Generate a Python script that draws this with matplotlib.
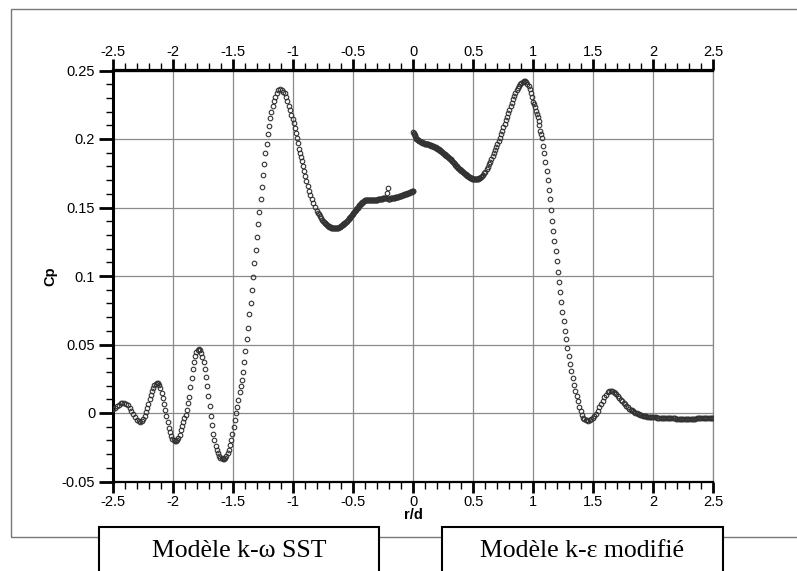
import numpy as np
import matplotlib
matplotlib.use("Agg")
import matplotlib.pyplot as plt
from matplotlib.patches import Rectangle
from matplotlib.ticker import MultipleLocator

# k-omega SST (left half, r/d < 0), (r/d, Cp)
pts_sst = [
    (-2.500, 0.0030), (-2.485, 0.0040), (-2.470, 0.0052), (-2.455, 0.0062), (-2.440, 0.0070),
    (-2.425, 0.0075), (-2.410, 0.0075), (-2.395, 0.0068), (-2.380, 0.0055), (-2.365, 0.0035),
    (-2.350, 0.0012), (-2.335, -0.0010), (-2.320, -0.0030), (-2.305, -0.0048), (-2.290, -0.0060),
    (-2.278, -0.0063), (-2.265, -0.0058), (-2.252, -0.0042), (-2.240, -0.0020), (-2.228, 0.0005),
    (-2.218, 0.0035), (-2.208, 0.0068), (-2.198, 0.0100), (-2.188, 0.0130), (-2.178, 0.0158),
    (-2.168, 0.0182), (-2.158, 0.0202), (-2.148, 0.0215), (-2.138, 0.0222), (-2.128, 0.0220),
    (-2.118, 0.0205), (-2.108, 0.0180), (-2.098, 0.0145), (-2.088, 0.0108), (-2.078, 0.0065),
    (-2.068, 0.0020), (-2.058, -0.0025), (-2.048, -0.0068), (-2.038, -0.0108), (-2.028, -0.0140),
    (-2.018, -0.0168), (-2.008, -0.0188), (-1.998, -0.0200), (-1.988, -0.0205), (-1.978, -0.0204),
    (-1.968, -0.0200), (-1.958, -0.0183), (-1.948, -0.0158), (-1.938, -0.0127), (-1.928, -0.0095),
    (-1.918, -0.0065), (-1.908, -0.0040), (-1.898, -0.0012), (-1.888, 0.0025), (-1.878, 0.0070),
    (-1.868, 0.0118), (-1.858, 0.0190), (-1.848, 0.0255), (-1.838, 0.0320), (-1.828, 0.0375),
    (-1.818, 0.0418), (-1.808, 0.0448), (-1.798, 0.0463), (-1.788, 0.0468), (-1.778, 0.0460),
    (-1.768, 0.0440), (-1.758, 0.0410), (-1.748, 0.0372), (-1.738, 0.0320), (-1.728, 0.0262),
    (-1.718, 0.0195), (-1.708, 0.0125), (-1.698, 0.0052), (-1.688, -0.0020), (-1.678, -0.0090),
    (-1.668, -0.0150), (-1.658, -0.0200), (-1.648, -0.0240), (-1.638, -0.0270), (-1.628, -0.0293),
    (-1.618, -0.0312), (-1.608, -0.0325), (-1.598, -0.0332), (-1.588, -0.0335), (-1.578, -0.0333),
    (-1.568, -0.0325), (-1.558, -0.0312), (-1.548, -0.0293), (-1.538, -0.0268), (-1.528, -0.0235),
    (-1.518, -0.0195), (-1.508, -0.0150), (-1.498, -0.0100), (-1.488, -0.0050), (-1.478, 0.0000),
    (-1.468, 0.0045), (-1.458, 0.0095), (-1.448, 0.0150), (-1.438, 0.0200), (-1.430, 0.0240),
    (-1.422, 0.0300), (-1.411, 0.0372), (-1.403, 0.0453), (-1.389, 0.0538), (-1.378, 0.0623),
    (-1.367, 0.0720), (-1.355, 0.0805), (-1.344, 0.0898), (-1.333, 0.0993), (-1.325, 0.1097),
    (-1.313, 0.1188), (-1.305, 0.1285), (-1.294, 0.1380), (-1.283, 0.1470), (-1.272, 0.1565),
    (-1.263, 0.1652), (-1.255, 0.1737), (-1.244, 0.1815), (-1.233, 0.1900), (-1.222, 0.1967),
    (-1.213, 0.2034), (-1.203, 0.2095), (-1.194, 0.2151), (-1.183, 0.2200), (-1.172, 0.2243),
    (-1.161, 0.2277), (-1.150, 0.2310), (-1.138, 0.2336), (-1.125, 0.2355), (-1.111, 0.2363),
    (-1.097, 0.2360), (-1.083, 0.2345), (-1.072, 0.2333), (-1.061, 0.2309), (-1.050, 0.2279),
    (-1.039, 0.2241), (-1.028, 0.2210), (-1.017, 0.2175), (-1.005, 0.2145), (-0.997, 0.2115),
    (-0.989, 0.2078), (-0.980, 0.2046), (-0.972, 0.2005), (-0.963, 0.1973), (-0.955, 0.1930),
    (-0.947, 0.1900), (-0.938, 0.1870), (-0.930, 0.1840), (-0.922, 0.1800), (-0.911, 0.1770),
    (-0.900, 0.1730), (-0.892, 0.1690), (-0.880, 0.1657), (-0.869, 0.1620), (-0.858, 0.1590),
    (-0.847, 0.1560), (-0.833, 0.1530), (-0.819, 0.1506), (-0.805, 0.1477), (-0.795, 0.1462),
    (-0.788, 0.1450), (-0.778, 0.1436), (-0.769, 0.1423), (-0.760, 0.1412), (-0.750, 0.1400),
    (-0.745, 0.1395), (-0.740, 0.1390), (-0.735, 0.1385), (-0.730, 0.1380), (-0.725, 0.1376),
    (-0.720, 0.1372), (-0.715, 0.1368), (-0.710, 0.1365), (-0.705, 0.1362), (-0.700, 0.1360),
    (-0.695, 0.1358), (-0.690, 0.1356), (-0.685, 0.1354), (-0.680, 0.1353), (-0.675, 0.1352),
    (-0.670, 0.1351), (-0.665, 0.1350), (-0.660, 0.1350), (-0.655, 0.1350), (-0.650, 0.1350),
    (-0.645, 0.1350), (-0.640, 0.1351), (-0.635, 0.1352), (-0.630, 0.1353), (-0.625, 0.1354),
    (-0.620, 0.1356), (-0.615, 0.1358), (-0.610, 0.1360), (-0.605, 0.1363), (-0.600, 0.1366),
    (-0.595, 0.1369), (-0.590, 0.1372), (-0.585, 0.1376), (-0.580, 0.1380), (-0.575, 0.1384),
    (-0.570, 0.1388), (-0.565, 0.1392), (-0.560, 0.1396), (-0.555, 0.1400), (-0.550, 0.1405),
    (-0.545, 0.1410), (-0.540, 0.1415), (-0.535, 0.1420), (-0.530, 0.1425), (-0.525, 0.1430),
    (-0.520, 0.1436), (-0.515, 0.1442), (-0.510, 0.1448), (-0.505, 0.1454), (-0.500, 0.1460),
    (-0.495, 0.1466), (-0.490, 0.1472), (-0.485, 0.1478), (-0.480, 0.1484), (-0.475, 0.1490),
    (-0.470, 0.1495), (-0.465, 0.1500), (-0.460, 0.1506), (-0.455, 0.1510), (-0.450, 0.1515),
    (-0.445, 0.1520), (-0.440, 0.1525), (-0.435, 0.1530), (-0.430, 0.1535), (-0.425, 0.1539),
    (-0.420, 0.1543), (-0.415, 0.1547), (-0.410, 0.1550), (-0.405, 0.1553), (-0.400, 0.1555),
    (-0.395, 0.1557), (-0.390, 0.1558), (-0.385, 0.1558), (-0.380, 0.1558), (-0.375, 0.1558),
    (-0.370, 0.1558), (-0.365, 0.1558), (-0.360, 0.1558), (-0.355, 0.1557), (-0.350, 0.1557),
    (-0.345, 0.1557), (-0.340, 0.1557), (-0.335, 0.1557), (-0.330, 0.1557), (-0.325, 0.1557),
    (-0.320, 0.1557), (-0.315, 0.1558), (-0.310, 0.1558), (-0.305, 0.1558), (-0.300, 0.1558),
    (-0.295, 0.1559), (-0.290, 0.1560), (-0.285, 0.1561), (-0.280, 0.1562), (-0.275, 0.1562),
    (-0.270, 0.1563), (-0.265, 0.1564), (-0.260, 0.1565), (-0.255, 0.1566), (-0.250, 0.1567),
    (-0.245, 0.1568), (-0.240, 0.1570), (-0.235, 0.1571), (-0.230, 0.1572), (-0.219, 0.1607),
    (-0.214, 0.1645), (-0.210, 0.1565), (-0.205, 0.1565), (-0.200, 0.1565), (-0.195, 0.1565),
    (-0.190, 0.1566), (-0.185, 0.1566), (-0.180, 0.1567), (-0.175, 0.1568), (-0.170, 0.1569),
    (-0.165, 0.1570), (-0.160, 0.1571), (-0.155, 0.1572), (-0.150, 0.1573), (-0.145, 0.1575),
    (-0.140, 0.1576), (-0.135, 0.1577), (-0.130, 0.1578), (-0.125, 0.1580), (-0.120, 0.1581),
    (-0.115, 0.1583), (-0.110, 0.1584), (-0.105, 0.1586), (-0.100, 0.1587), (-0.095, 0.1589),
    (-0.090, 0.1590), (-0.085, 0.1592), (-0.080, 0.1594), (-0.075, 0.1595), (-0.070, 0.1597),
    (-0.065, 0.1598), (-0.060, 0.1600), (-0.055, 0.1602), (-0.050, 0.1603), (-0.045, 0.1605),
    (-0.040, 0.1607), (-0.035, 0.1608), (-0.030, 0.1610), (-0.025, 0.1612), (-0.020, 0.1614),
    (-0.015, 0.1616), (-0.010, 0.1617), (-0.005, 0.1619), (0.000, 0.1620),
]

# k-epsilon modifie (right half, r/d > 0)
pts_ke = [
    (0.000, 0.2050), (0.003, 0.2046), (0.006, 0.2040), (0.010, 0.2030), (0.015, 0.2020),
    (0.020, 0.2010), (0.025, 0.2003), (0.030, 0.1998), (0.035, 0.1994), (0.040, 0.1991),
    (0.045, 0.1988), (0.050, 0.1985), (0.055, 0.1982), (0.060, 0.1980), (0.065, 0.1978),
    (0.070, 0.1976), (0.075, 0.1974), (0.080, 0.1972), (0.085, 0.1970), (0.090, 0.1969),
    (0.095, 0.1967), (0.100, 0.1966), (0.105, 0.1964), (0.110, 0.1963), (0.115, 0.1962),
    (0.120, 0.1961), (0.125, 0.1960), (0.130, 0.1958), (0.135, 0.1957), (0.140, 0.1955),
    (0.145, 0.1953), (0.150, 0.1952), (0.155, 0.1950), (0.160, 0.1948), (0.165, 0.1946),
    (0.170, 0.1944), (0.175, 0.1942), (0.180, 0.1940), (0.185, 0.1938), (0.190, 0.1935),
    (0.195, 0.1933), (0.200, 0.1930), (0.205, 0.1927), (0.210, 0.1924), (0.215, 0.1921),
    (0.220, 0.1917), (0.225, 0.1914), (0.230, 0.1910), (0.235, 0.1906), (0.240, 0.1902),
    (0.245, 0.1899), (0.250, 0.1895), (0.255, 0.1891), (0.260, 0.1887), (0.265, 0.1884),
    (0.270, 0.1880), (0.275, 0.1877), (0.280, 0.1873), (0.285, 0.1870), (0.290, 0.1867),
    (0.295, 0.1864), (0.300, 0.1860), (0.305, 0.1856), (0.310, 0.1852), (0.315, 0.1848),
    (0.320, 0.1843), (0.325, 0.1838), (0.330, 0.1833), (0.335, 0.1828), (0.340, 0.1822),
    (0.345, 0.1817), (0.350, 0.1811), (0.355, 0.1806), (0.360, 0.1800), (0.365, 0.1796),
    (0.370, 0.1791), (0.375, 0.1787), (0.380, 0.1782), (0.385, 0.1778), (0.390, 0.1774),
    (0.395, 0.1771), (0.400, 0.1767), (0.405, 0.1764), (0.410, 0.1760), (0.415, 0.1756),
    (0.420, 0.1752), (0.425, 0.1749), (0.430, 0.1745), (0.435, 0.1741), (0.440, 0.1737),
    (0.445, 0.1734), (0.450, 0.1731), (0.455, 0.1728), (0.460, 0.1725), (0.465, 0.1722),
    (0.470, 0.1720), (0.475, 0.1717), (0.480, 0.1715), (0.485, 0.1713), (0.490, 0.1711),
    (0.495, 0.1709), (0.500, 0.1707), (0.505, 0.1706), (0.510, 0.1705), (0.515, 0.1705),
    (0.520, 0.1705), (0.525, 0.1706), (0.530, 0.1707), (0.535, 0.1708), (0.540, 0.1710),
    (0.545, 0.1712), (0.550, 0.1714), (0.555, 0.1717), (0.560, 0.1720), (0.570, 0.1728),
    (0.580, 0.1738), (0.590, 0.1749), (0.600, 0.1762), (0.610, 0.1779), (0.620, 0.1797),
    (0.630, 0.1816), (0.640, 0.1835), (0.650, 0.1855), (0.660, 0.1875), (0.670, 0.1896),
    (0.680, 0.1918), (0.690, 0.1940), (0.700, 0.1963), (0.710, 0.1986), (0.720, 0.2010),
    (0.730, 0.2034), (0.740, 0.2058), (0.750, 0.2084), (0.760, 0.2110), (0.770, 0.2136),
    (0.780, 0.2163), (0.790, 0.2189), (0.800, 0.2215), (0.810, 0.2240), (0.820, 0.2265),
    (0.830, 0.2290), (0.840, 0.2315), (0.850, 0.2338), (0.860, 0.2358), (0.870, 0.2375),
    (0.880, 0.2390), (0.890, 0.2402), (0.900, 0.2412), (0.910, 0.2418), (0.920, 0.2422),
    (0.930, 0.2421), (0.940, 0.2415), (0.950, 0.2403), (0.960, 0.2385), (0.970, 0.2362),
    (0.980, 0.2335), (0.990, 0.2303), (1.000, 0.2272), (1.006, 0.2257), (1.015, 0.2230),
    (1.022, 0.2203), (1.030, 0.2180), (1.036, 0.2160), (1.044, 0.2130), (1.050, 0.2100),
    (1.056, 0.2062), (1.064, 0.2035), (1.070, 0.2008), (1.078, 0.1950), (1.089, 0.1900),
    (1.097, 0.1830), (1.111, 0.1765), (1.120, 0.1700), (1.131, 0.1630), (1.139, 0.1560),
    (1.147, 0.1480), (1.158, 0.1405), (1.167, 0.1330), (1.175, 0.1257), (1.186, 0.1180),
    (1.194, 0.1106), (1.206, 0.1030), (1.214, 0.0955), (1.222, 0.0880), (1.233, 0.0810),
    (1.242, 0.0740), (1.253, 0.0670), (1.261, 0.0600), (1.272, 0.0538), (1.283, 0.0476),
    (1.295, 0.0415), (1.306, 0.0359), (1.317, 0.0305), (1.328, 0.0257), (1.339, 0.0208),
    (1.350, 0.0164), (1.361, 0.0123), (1.372, 0.0084), (1.383, 0.0047), (1.395, 0.0013),
    (1.408, -0.0018), (1.417, -0.0035), (1.425, -0.0042), (1.435, -0.0050), (1.445, -0.0054),
    (1.458, -0.0055), (1.470, -0.0052), (1.482, -0.0046), (1.495, -0.0038), (1.508, -0.0025),
    (1.522, -0.0006), (1.536, 0.0018), (1.550, 0.0042), (1.564, 0.0067), (1.578, 0.0091),
    (1.592, 0.0114), (1.606, 0.0135), (1.620, 0.0150), (1.633, 0.0158), (1.645, 0.0160),
    (1.657, 0.0158), (1.669, 0.0153), (1.680, 0.0146), (1.692, 0.0137), (1.704, 0.0125),
    (1.716, 0.0112), (1.728, 0.0098), (1.740, 0.0087), (1.752, 0.0075), (1.764, 0.0063),
    (1.776, 0.0052), (1.788, 0.0041), (1.800, 0.0032), (1.810, 0.0025), (1.820, 0.0019),
    (1.830, 0.0013), (1.840, 0.0008), (1.850, 0.0003), (1.860, -0.0002), (1.870, -0.0006),
    (1.880, -0.0010), (1.890, -0.0013), (1.900, -0.0016), (1.910, -0.0019), (1.920, -0.0021),
    (1.930, -0.0023), (1.940, -0.0025), (1.950, -0.0026), (1.960, -0.0027), (1.970, -0.0029),
    (1.980, -0.0030), (1.990, -0.0030), (2.000, -0.0031), (2.010, -0.0032), (2.020, -0.0032),
    (2.030, -0.0033), (2.040, -0.0033), (2.050, -0.0034), (2.060, -0.0034), (2.070, -0.0035),
    (2.080, -0.0035), (2.090, -0.0036), (2.100, -0.0036), (2.110, -0.0037), (2.120, -0.0037),
    (2.130, -0.0038), (2.140, -0.0038), (2.150, -0.0039), (2.160, -0.0039), (2.170, -0.0040),
    (2.180, -0.0040), (2.190, -0.0041), (2.200, -0.0041), (2.210, -0.0041), (2.220, -0.0041),
    (2.230, -0.0042), (2.240, -0.0042), (2.250, -0.0042), (2.260, -0.0042), (2.270, -0.0042),
    (2.280, -0.0042), (2.290, -0.0042), (2.300, -0.0042), (2.310, -0.0042), (2.320, -0.0041),
    (2.330, -0.0041), (2.340, -0.0041), (2.350, -0.0041), (2.360, -0.0040), (2.370, -0.0040),
    (2.380, -0.0040), (2.390, -0.0040), (2.400, -0.0039), (2.410, -0.0039), (2.420, -0.0038),
    (2.430, -0.0038), (2.440, -0.0037), (2.450, -0.0037), (2.460, -0.0036), (2.470, -0.0036),
    (2.480, -0.0035), (2.490, -0.0035), (2.500, -0.0034),
]

xticks = [-2.5, -2, -1.5, -1, -0.5, 0, 0.5, 1, 1.5, 2, 2.5]
xtick_labels = ["-2.5", "-2", "-1.5", "-1", "-0.5", "0", "0.5", "1", "1.5", "2", "2.5"]
yticks = [-0.05, 0, 0.05, 0.1, 0.15, 0.2, 0.25]
ytick_labels = ["-0.05", "0", "0.05", "0.1", "0.15", "0.2", "0.25"]
box_labels = ["Modèle k-ω SST", "Modèle k-ε modifié"]

r_sst, cp_sst = np.array(pts_sst).T
r_ke, cp_ke = np.array(pts_ke).T

W, H = 797, 571
fig = plt.figure(figsize=(W / 100, H / 100), dpi=100)
plt.rcParams['font.family'] = ['Liberation Sans', 'DejaVu Sans']

# outer frame (gray)
fig.add_artist(Rectangle((11 / W, 1 - 537 / H), 1.0, (537 - 9) / H, transform=fig.transFigure,
                         fill=False, edgecolor="#777777", linewidth=1.0, zorder=0))

ax = fig.add_axes([113.3 / W, 1 - 481.5 / H, 600 / W, 411 / H])
ax.set_facecolor("none")

mk = dict(linestyle="none", marker="o", markersize=3.3, markerfacecolor="none",
          markeredgecolor="#333333", markeredgewidth=0.8, zorder=3)
ax.plot(r_sst, cp_sst, **mk)
ax.plot(r_ke, cp_ke, **mk)

ax.set_xlim(-2.5, 2.5)
ax.set_ylim(-0.05, 0.25)
ax.set_xticks(xticks)
ax.set_xticklabels(xtick_labels)
ax.set_yticks(yticks)
ax.set_yticklabels(ytick_labels)
ax.xaxis.set_minor_locator(MultipleLocator(0.1))
ax.yaxis.set_minor_locator(MultipleLocator(0.01))
ax.grid(True, which="major", color="#8a8a8a", linewidth=0.9)

ax.tick_params(which="both", direction="out", top=False, right=False,
               labelsize=10.5, colors="black")
ax.tick_params(axis="x", which="major", length=8, width=2.0, pad=2)
ax.tick_params(axis="y", which="major", length=10, width=2.0, pad=3)
ax.tick_params(which="minor", length=5, width=1.0)

# top axis with the same r/d scale
top = ax.secondary_xaxis("top")
top.set_xticks(xticks)
top.set_xticklabels(xtick_labels)
top.xaxis.set_minor_locator(MultipleLocator(0.1))
top.tick_params(which="both", direction="out", labelsize=10.5)
top.tick_params(which="major", length=8, width=2.0, pad=0)
top.tick_params(which="minor", length=5, width=1.0)
top.spines["top"].set_linewidth(1.6)

ax.spines["left"].set_linewidth(2.2)
for s in ["top", "bottom"]:
    ax.spines[s].set_linewidth(1.6)
ax.spines["right"].set_color("#8a8a8a")
ax.spines["right"].set_linewidth(0.9)

ax.set_xlabel("r/d", fontsize=10.5, fontweight="bold", labelpad=-1)
ax.set_ylabel("Cp", fontsize=10.5, fontweight="bold", labelpad=3)

# model label boxes
for (x0, x1), label in zip([(99, 379), (442, 723)], box_labels):
    fig.add_artist(Rectangle((x0 / W, -0.05), (x1 - x0) / W, 0.05 + 1 - 527 / H,
                             transform=fig.transFigure, facecolor="white",
                             edgecolor="black", linewidth=1.5, zorder=2))
    fig.text((x0 + x1) / 2 / W, 1 - 551 / H, label, ha="center", va="center",
             fontsize=18.5, family=["Liberation Serif", "DejaVu Serif"], zorder=3)

fig.savefig("out.png", dpi=100)
